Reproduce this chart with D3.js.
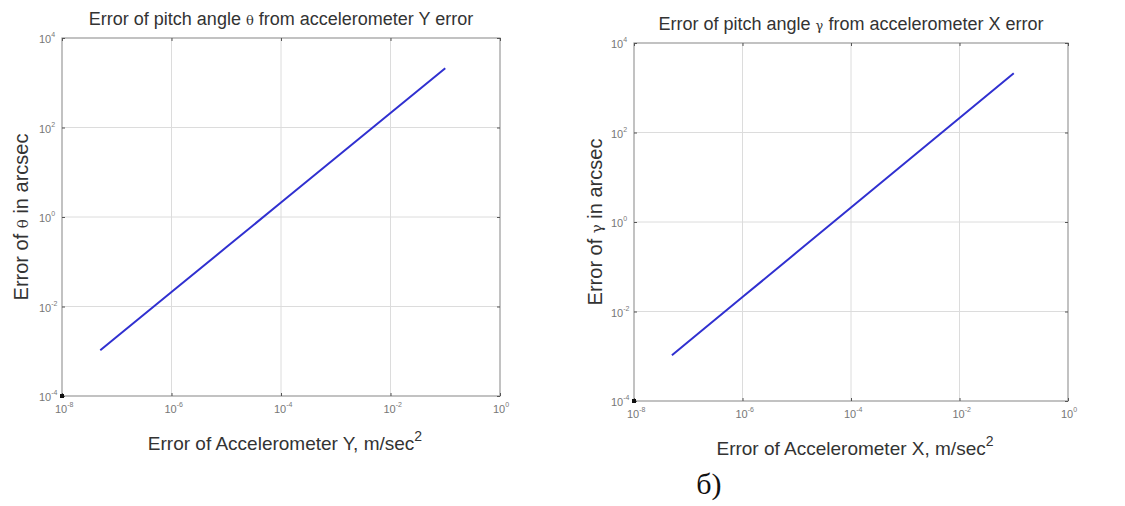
<!DOCTYPE html>
<html>
<head>
<meta charset="utf-8">
<script src="https://cdn.jsdelivr.net/npm/d3@7"></script>
<style>
  body { margin: 0; background: #fff; }
  svg { display: block; }
</style>
</head>
<body>
<svg id="chart" width="1125" height="506"></svg>
<script>
// values (log-log, error in m/s^2 -> arcsec)
const accelErr = [5e-8, 1e-7, 1e-6, 1e-5, 1e-4, 1e-3, 1e-2, 1e-1];
const thetaErr = [0.00105, 0.0021, 0.021, 0.21, 2.1, 21, 210, 2100];
const gammaErr = [0.00105, 0.0021, 0.021, 0.21, 2.1, 21, 210, 2100];
const xTicks = [1e-8, 1e-6, 1e-4, 1e-2, 1e0];
const yTicks = [1e-4, 1e-2, 1e0, 1e2, 1e4];
const xTickExp = ["-8", "-6", "-4", "-2", "0"];
const yTickExp = ["-4", "-2", "0", "2", "4"];

const svg = d3.select("#chart");
const sans = "'Liberation Sans', Arial, sans-serif";

function drawPanel(p) {
  const x = d3.scaleLog().domain([1e-8, 1]).range([p.left, p.right]);
  const y = d3.scaleLog().domain([1e-4, 1e4]).range([p.bottom, p.top]);
  const g = svg.append("g");

  // grid
  g.selectAll(".gx").data(xTicks.slice(1, -1)).enter().append("line")
    .attr("x1", d => x(d)).attr("x2", d => x(d))
    .attr("y1", p.top).attr("y2", p.bottom)
    .attr("stroke", "#dcdcdc").attr("stroke-width", 1);
  g.selectAll(".gy").data(yTicks.slice(1, -1)).enter().append("line")
    .attr("y1", d => y(d)).attr("y2", d => y(d))
    .attr("x1", p.left).attr("x2", p.right)
    .attr("stroke", "#dcdcdc").attr("stroke-width", 1);

  // box
  g.append("rect")
    .attr("x", p.left).attr("y", p.top)
    .attr("width", p.right - p.left).attr("height", p.bottom - p.top)
    .attr("fill", "none").attr("stroke", "#9a9a9a").attr("stroke-width", 1.2);

  // axes with small ticks
  const xb = d3.axisBottom(x).tickValues(xTicks).tickSize(-3).tickFormat("");
  const xt = d3.axisTop(x).tickValues(xTicks).tickSize(-3).tickFormat("");
  const yl = d3.axisLeft(y).tickValues(yTicks).tickSize(-3).tickFormat("");
  const yr = d3.axisRight(y).tickValues(yTicks).tickSize(-3).tickFormat("");
  [[xb, `translate(0,${p.bottom})`], [xt, `translate(0,${p.top})`],
   [yl, `translate(${p.left},0)`], [yr, `translate(${p.right},0)`]].forEach(([ax, tr]) => {
    const a = g.append("g").attr("transform", tr).call(ax);
    a.select(".domain").remove();
    a.selectAll("line").attr("stroke", "#555");
  });

  // corner mark
  g.append("rect").attr("x", p.left - 2).attr("y", p.bottom - 2)
    .attr("width", 4).attr("height", 4).attr("fill", "#111");

  // tick labels
  xTicks.forEach((t, i) => {
    const tx = g.append("text").attr("x", x(t) - 7).attr("y", p.bottom + 17)
      .attr("fill", "#777").style("font", `11px ${sans}`);
    tx.append("tspan").text("10");
    tx.append("tspan").attr("dy", -6).style("font-size", "7px").text(xTickExp[i]);
  });
  yTicks.forEach((t, i) => {
    const ty = g.append("text").attr("x", p.left - 23).attr("y", y(t) + 5)
      .attr("fill", "#777").style("font", `11px ${sans}`);
    ty.append("tspan").text("10");
    ty.append("tspan").attr("dy", -6).style("font-size", "7px").text(yTickExp[i]);
  });

  // data line
  const line = d3.line().x(d => x(d[0])).y(d => y(d[1]));
  g.append("path")
    .datum(accelErr.map((a, i) => [a, p.values[i]]))
    .attr("d", line)
    .attr("fill", "none").attr("stroke", "#3030d0").attr("stroke-width", 2);

  const cx = (p.left + p.right) / 2;
  // title
  const ti = g.append("text").attr("x", cx).attr("y", p.top - 13)
    .attr("text-anchor", "middle").attr("fill", "#333")
    .style("font", `18px ${sans}`);
  ti.append("tspan").text("Error of pitch angle ");
  ti.append("tspan").style("font-family", "'DejaVu Serif', serif").style("font-size", "13px").text(p.sym);
  ti.append("tspan").text(" from accelerometer " + p.axis + " error");

  // x label
  const xl = g.append("text").attr("x", cx + 4).attr("y", p.bottom + 54)
    .attr("text-anchor", "middle").attr("fill", "#333")
    .style("font", `19px ${sans}`);
  xl.append("tspan").text("Error of Accelerometer " + p.axis + ", m/sec");
  xl.append("tspan").attr("dy", -9).style("font-size", "14px").text("2");

  // y label
  const yc = (p.top + p.bottom) / 2;
  const ylb = g.append("text")
    .attr("transform", `translate(${p.left - p.ylOff},${yc}) rotate(-90)`)
    .attr("text-anchor", "middle").attr("fill", "#333")
    .style("font", `20px ${sans}`);
  ylb.append("tspan").text("Error of ");
  ylb.append("tspan").style("font-family", "'DejaVu Serif', serif").style("font-size", "15px").text(p.sym);
  ylb.append("tspan").text(" in arcsec");
}

drawPanel({ left: 62, right: 500, top: 38, bottom: 396, values: thetaErr, sym: "θ", axis: "Y", ylOff: 34 });
drawPanel({ left: 634, right: 1068, top: 43, bottom: 401, values: gammaErr, sym: "γ", axis: "X", ylOff: 32 });

svg.append("text").attr("x", 709).attr("y", 494)
  .attr("text-anchor", "middle").attr("fill", "#111")
  .style("font", "30px 'Liberation Serif', 'Times New Roman', serif")
  .text("б)");
</script>
</body>
</html>
